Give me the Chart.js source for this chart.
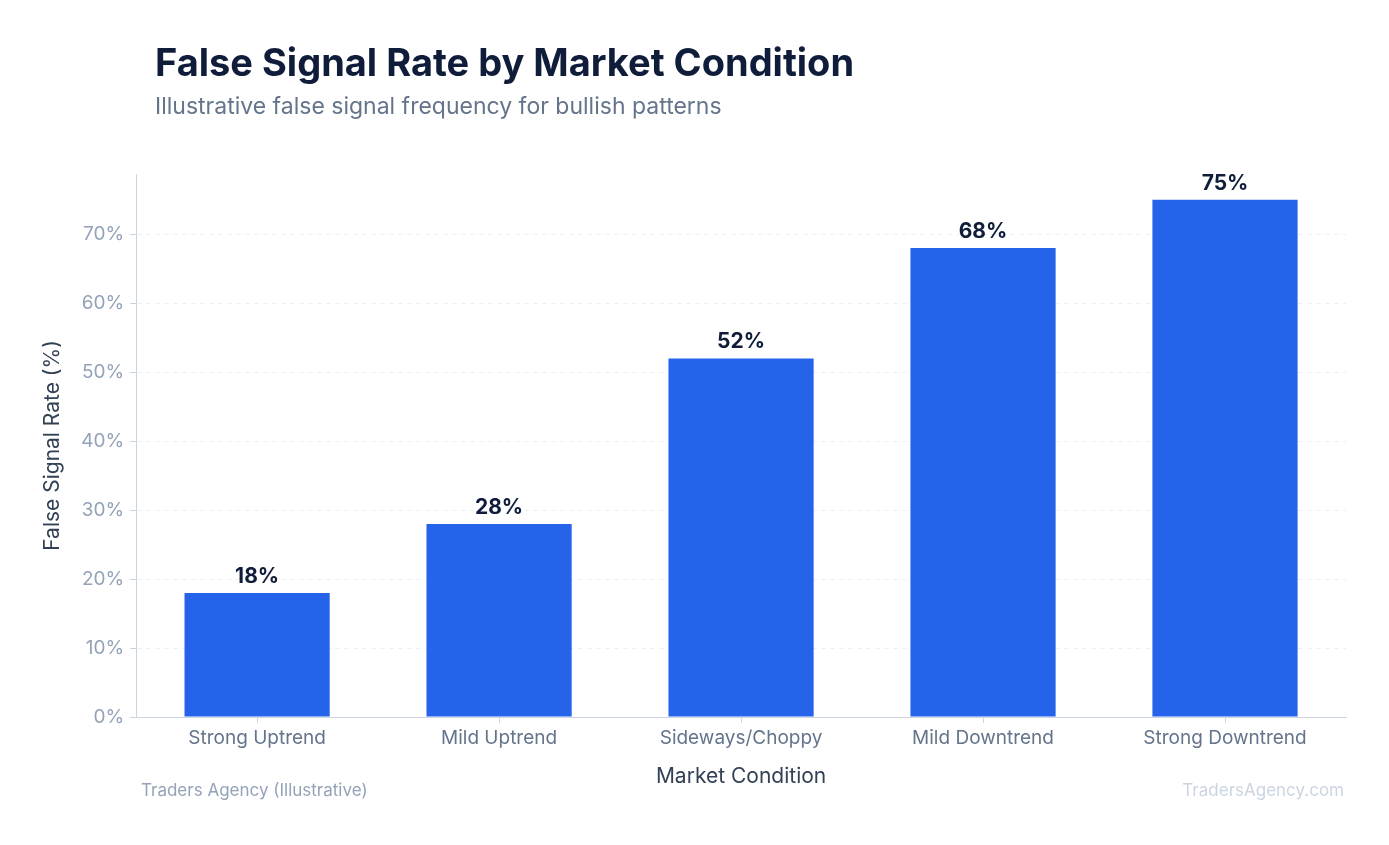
<!DOCTYPE html>
<html><head><meta charset="utf-8">
<script src="https://cdn.jsdelivr.net/npm/chart.js@4/dist/chart.umd.min.js"></script>
<style>html,body{margin:0;padding:0;background:#fff}#w{width:1389px;height:845px}</style>
</head><body><div id="w"><canvas id="c"></canvas></div>
<script>
const categories = ["Strong Uptrend","Mild Uptrend","Sideways/Choppy","Mild Downtrend","Strong Downtrend"];
const falseSignalRates = [18,28,52,68,75];
const yTicks = [0,10,20,30,40,50,60,70];
const titleText = "False Signal Rate by Market Condition";
const subtitleText = "Illustrative false signal frequency for bullish patterns";

const F = "Inter, 'Noto Sans', sans-serif";
const deco = {
  id:'deco',
  afterDraw(ch){
    const c = ch.ctx; c.save();
    c.textBaseline='alphabetic';
    c.fillStyle='#0f1d3a'; c.font='bold 38px '+F; c.textAlign='left';
    c.fillText(titleText,155,76);
    c.fillStyle='#64748b'; c.font='23px '+F;
    c.fillText(subtitleText,155,114);
    c.font='17px '+F; c.fillStyle='#94a3b8';
    c.fillText('Traders Agency (Illustrative)',141,796);
    c.textAlign='right'; c.fillStyle='#cbd5e1';
    c.fillText('TradersAgency.com',1344,796);
    // value labels
    const meta = ch.getDatasetMeta(0);
    c.textAlign='center'; c.fillStyle='#0f1d3a'; c.font='bold 21px '+F;
    meta.data.forEach((b,i)=>{ c.fillText(falseSignalRates[i]+'%', b.x, b.y-10); });
    c.restore();
  }
};
new Chart(document.getElementById('c'),{
  type:'bar',
  data:{labels:categories,datasets:[{data:falseSignalRates,backgroundColor:'#2563eb',barPercentage:0.6,categoryPercentage:1}]},
  options:{
    responsive:true,maintainAspectRatio:false,animation:false,
    layout:{padding:{top:174,left:36,right:43,bottom:52}},
    plugins:{legend:{display:false},tooltip:{enabled:false}},
    scales:{
      y:{min:0,max:78.75,
        afterBuildTicks(s){s.ticks=yTicks.map(v=>({value:v}));},
        ticks:{callback:v=>v+'%',color:'#94a3b8',font:{family:F,size:19},padding:6},
        grid:{color:'#edf0f4',borderDash:[5,4],tickLength:6,tickColor:'#cbd5e1'},
        border:{color:'#cbd5e1',dash:[5,4]},
        title:{display:true,text:'False Signal Rate (%)',color:'#334155',font:{family:F,size:21},padding:{bottom:10}}
      },
      x:{
        ticks:{color:'#64748b',font:{family:F,size:19},padding:4},
        grid:{offset:false,drawOnChartArea:false,tickLength:6,color:'#cbd5e1'},
        border:{color:'#cbd5e1'},
        title:{display:true,text:'Market Condition',color:'#334155',font:{family:F,size:21},padding:{top:10}}
      }
    }
  },
  plugins:[deco]
});
</script></body></html>
